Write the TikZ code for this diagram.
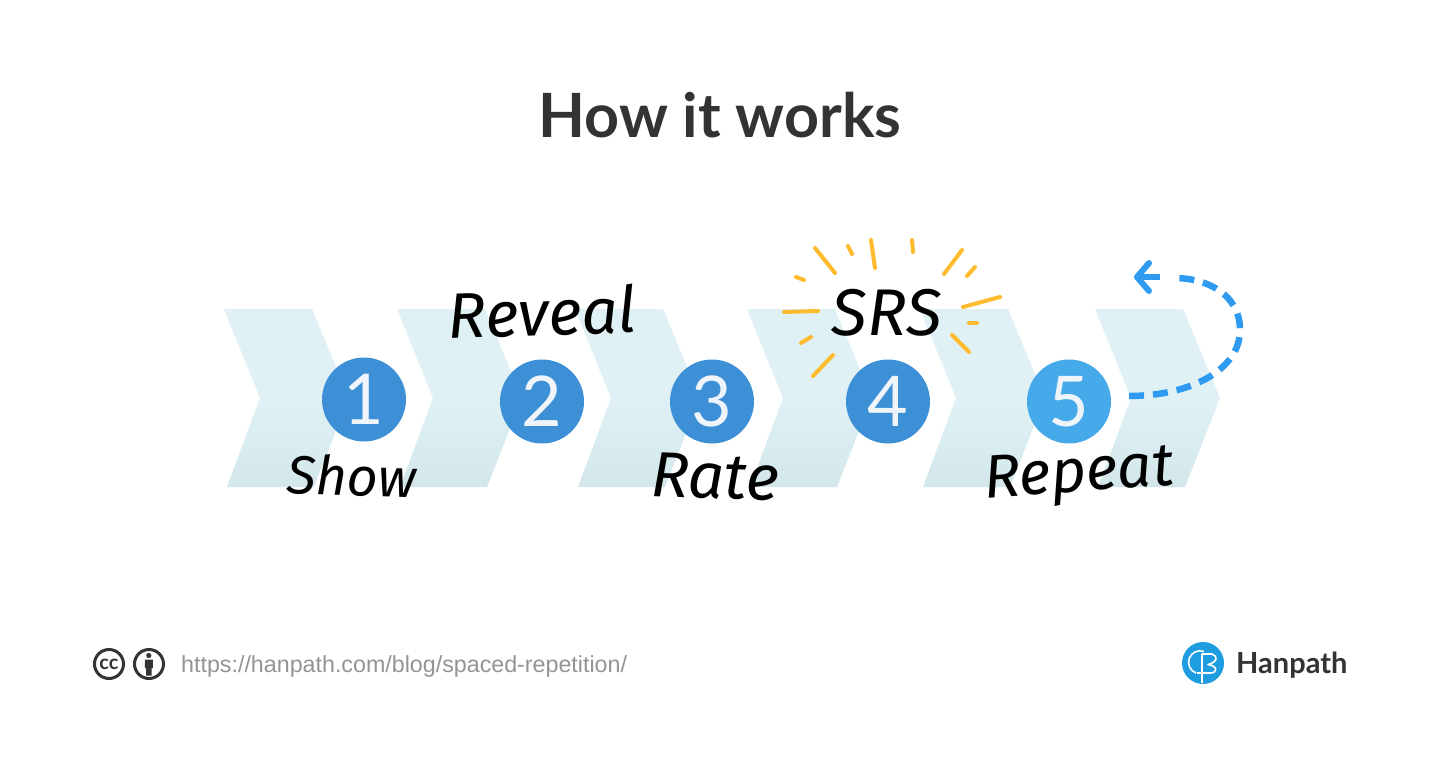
\documentclass[tikz,border=0pt]{standalone}
\usepackage{fontspec}
\setmainfont{Lato}
\newfontfamily\handfont{Fira Sans}
\newfontfamily\urlfont{Liberation Sans}
\usetikzlibrary{arrows.meta, positioning}

\definecolor{chevtop}{HTML}{DFF1F5}
\definecolor{chevbot}{HTML}{D3E7EA}
\definecolor{dotblue}{HTML}{3D8FD6}
\definecolor{dotlight}{HTML}{45A9EA}
\definecolor{digitwhite}{HTML}{EEF4FA}
\definecolor{arrowblue}{HTML}{2E9BF0}
\definecolor{rayorange}{HTML}{FDBB2D}
\definecolor{logoblue}{HTML}{1E9DE0}
\definecolor{inkdark}{HTML}{333333}

\tikzset{
  chevron/.style={top color=chevtop, bottom color=chevbot, middle color=chevtop, draw=none},
  stepdot/.style={circle, minimum size=84pt, inner sep=0pt, fill=#1, text=digitwhite, font=\fontsize{70}{70}\selectfont},
  handlabel/.style={font=\handfont\itshape\fontsize{#1}{#1}\selectfont, text=black, inner sep=0pt},
  ray/.style={rayorange, line width=4pt, line cap=round},
}

\begin{document}
\begin{tikzpicture}[x=1pt,y=-1pt]
\useasboundingbox (0,0) rectangle (1440,776);
\fill[white] (0,0) rectangle (1440,776);

% ========== title ==========
\node[font=\bfseries\fontsize{61}{61}\selectfont, text=inkdark] (title) at (720,115) {How it works};

% ========== chevrons ==========
\foreach \x in {224,397,575,747,920,1095} {
  \path[chevron] (\x,309) -- (\x+88,309) -- (\x+125,398) -- (\x+90,487) -- (\x+3,487) -- (\x+36,398) -- cycle;
}

% ========== numbered dots ==========
\node[stepdot=dotblue] (dot1) at (364,399.5) {1};
\node[stepdot=dotblue] (dot2) at (542,401.5) {2};
\node[stepdot=dotblue] (dot3) at (712,401.5) {3};
\node[stepdot=dotblue] (dot4) at (888,401.5) {4};
\node[stepdot=dotlight] (dot5) at (1069,401.5) {5};

% ========== labels ==========
\node[handlabel=54, rotate=-2] (show) at (352,476) {Show};
\node[handlabel=64, rotate=2] (reveal) at (542,312) {Reveal};
\node[handlabel=64, rotate=-2] (rate) at (715,477) {Rate};
\node[handlabel=66] (srs) at (887,313) {SRS};
\node[handlabel=61, rotate=4] (repeat) at (1079,477) {Repeat};

% ========== rays around SRS ==========
\draw[ray] (815,248) -- (835,273);
\draw[ray] (848,246) -- (852,254);
\draw[ray] (871,240) -- (875,268);
\draw[ray] (912,240) -- (913,252);
\draw[ray] (962,250) -- (944,274);
\draw[ray] (975,267) -- (967,276);
\draw[ray] (963,307) -- (1000,297);
\draw[ray] (969,323) -- (977,323);
\draw[ray] (952,335) -- (969,352);
\draw[ray] (796,277) -- (804,280);
\draw[ray] (784,312) -- (818,311);
\draw[ray] (801,343) -- (811,337);
\draw[ray] (813,376) -- (833,355);

% ========== loop back arrow ==========
\coordinate (loopstart) at (1129,396);
\coordinate (loopneck) at (1174,278);
\coordinate (loopshaft) at (1160,277);
\coordinate (loopend) at (1134,277);
\draw[arrowblue, line width=6.5pt, dash pattern=on 15pt off 9pt]
  (loopstart) .. controls (1190,396) and (1240,370) .. (1240,330)
  .. controls (1240,295) and (1208,278) .. (loopneck);
\draw[arrowblue, line width=6pt, -{Straight Barb[length=12pt, width=28pt, round]}] (loopshaft) -- (loopend);

% ========== licence icons and url ==========
\node[circle, draw=inkdark, line width=3pt, minimum size=29pt, inner sep=0pt, font=\bfseries\fontsize{20}{20}\selectfont, text=inkdark] (cc) at (109,664) {cc};
\node[circle, draw=inkdark, line width=3pt, minimum size=29pt, inner sep=0pt] (by) at (149,664) {};
\fill[inkdark] (148.8,655.5) circle (2.6pt);
\fill[inkdark] (144.8,659.5) rectangle (152.8,668) (146,668) rectangle (151.6,675.5);
\node[anchor=west, inner sep=0pt, font=\urlfont\fontsize{23.25}{24}\selectfont, text=black!42] (url) at (181,666) {https://hanpath.com/blog/spaced-repetition/};

% ========== logo ==========
\node[circle, fill=logoblue, minimum size=42pt, inner sep=0pt] (logo) at (1203,663) {};
\draw[white, line width=1.6pt] (1204,651.5) arc (70:250:11.5pt);
\draw[white, line width=1.6pt, line join=round] (1202,683) -- (1202,654) -- (1212,654) .. controls (1218,656) and (1218,662) .. (1208,664.5) .. controls (1218,666) and (1218,673) .. (1210,673) -- (1197,673);
\node[anchor=west, inner sep=0pt, font=\bfseries\fontsize{29}{29}\selectfont, text=inkdark] (brand) at (1236,665) {Hanpath};
\end{tikzpicture}
\end{document}
